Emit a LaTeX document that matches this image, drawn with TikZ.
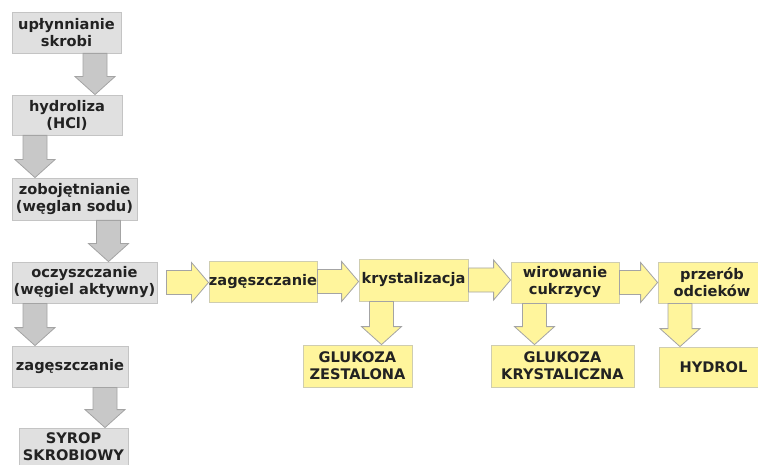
\documentclass[tikz,border=0pt]{standalone}
\usepackage{fontspec}
\setmainfont{DejaVu Sans}
\usepackage{tikz}
\usetikzlibrary{calc}

\definecolor{boxgray}{HTML}{E0E0E0}
\definecolor{linegray}{HTML}{C4C4C4}
\definecolor{arrgray}{HTML}{C8C8C8}
\definecolor{arrline}{HTML}{A4A4A4}
\definecolor{boxyel}{HTML}{FFF59C}
\definecolor{lineyel}{HTML}{CFCDB0}
\definecolor{txt}{HTML}{222222}

% fat block arrows: style, x, from node, to node
\newcommand\fatdown[4]{%
  \draw[#1] let \p1=(#3.south), \p2=(#4.north), \p3=(#2,0) in
    (\x3-12pt,\y1) -- (\x3+12pt,\y1) -- (\x3+12pt,\y2+18pt) -- (\x3+20pt,\y2+18pt)
    -- (\x3,\y2) -- (\x3-20pt,\y2+18pt) -- (\x3-12pt,\y2+18pt) -- cycle;}
% style, start point, to node
\newcommand\fatright[3]{%
  \draw[#1] let \p1=(#2), \p2=(#3.west) in
    (\x1,\y1+12pt) -- (\x2-17pt,\y1+12pt) -- (\x2-17pt,\y1+20pt) -- (\x2,\y1)
    -- (\x2-17pt,\y1-20pt) -- (\x2-17pt,\y1-12pt) -- (\x1,\y1-12pt) -- cycle;}

\begin{document}
\begin{tikzpicture}
        [
            x=1pt, y=-1pt,
            every node/.style={font=\fontsize{14.6}{17}\selectfont\bfseries, text=txt, align=center, inner sep=0pt},
            graybox/.style={rectangle, draw=linegray, fill=boxgray, line width=0.8pt},
            yelbox/.style={rectangle, draw=lineyel, fill=boxyel, line width=0.8pt},
            grayarr/.style={draw=arrline, fill=arrgray, line width=0.8pt},
            yelarr/.style={draw=arrline, fill=boxyel, line width=0.8pt},
        ]
        \useasboundingbox (0,0) rectangle (758,465);
        \clip (0,0) rectangle (758,465);
        % left column
        \node[graybox, minimum width=109pt, minimum height=41pt] (upl) at (66.5,32.5) {upłynnianie\\skrobi};
        \node[graybox, minimum width=110pt, minimum height=40pt] (hyd) at (67,115) {hydroliza\\(HCl)};
        \node[graybox, minimum width=125pt, minimum height=42pt] (zob) at (74.5,199) {zobojętnianie\\(węglan sodu)};
        \node[graybox, minimum width=145pt, minimum height=41pt] (ocz) at (84.5,282.5) {oczyszczanie\\(węgiel aktywny)};
        \node[graybox, minimum width=116pt, minimum height=41pt] (zag) at (70,366.5) {zagęszczanie};
        \node[graybox, minimum width=109pt, minimum height=46pt, text depth=9pt] (syr) at (73.5,451) {SYROP\\SKROBIOWY};
        \fatdown{grayarr}{95}{upl}{hyd}
        \fatdown{grayarr}{35}{hyd}{zob}
        \fatdown{grayarr}{108.5}{zob}{ocz}
        \fatdown{grayarr}{35}{ocz}{zag}
        \fatdown{grayarr}{105}{zag}{syr}
        % glucose line
        \node[yelbox, minimum width=108pt, minimum height=41pt] (zagy) at (263,281.5) {zagęszczanie};
        \node[yelbox, minimum width=109pt, minimum height=42pt] (kry) at (413.5,280) {krystalizacja};
        \node[yelbox, minimum width=108pt, minimum height=41pt] (wir) at (565,282.5) {wirowanie\\cukrzycy};
        \node[yelbox, minimum width=108pt, minimum height=41pt] (prz) at (712,282.5) {przerób\\odcieków};
        \node[yelbox, minimum width=109pt, minimum height=42pt] (glz) at (357.5,366) {GLUKOZA\\ZESTALONA};
        \node[yelbox, minimum width=143pt, minimum height=42pt] (glk) at (562.5,366) {GLUKOZA\\KRYSTALICZNA};
        \node[yelbox, minimum width=109pt, minimum height=40pt] (hyr) at (713.5,367) {HYDROL};
        \fatright{yelarr}{$(ocz.east)+(9,0)$}{zagy}
        \fatright{yelarr}{zagy.east}{kry}
        \fatright{yelarr}{kry.east}{wir}
        \fatright{yelarr}{wir.east}{prz}
        \fatdown{yelarr}{381.5}{kry}{glz}
        \fatdown{yelarr}{534.5}{wir}{glk}
        \fatdown{yelarr}{680}{prz}{hyr}
\end{tikzpicture}
\end{document}
